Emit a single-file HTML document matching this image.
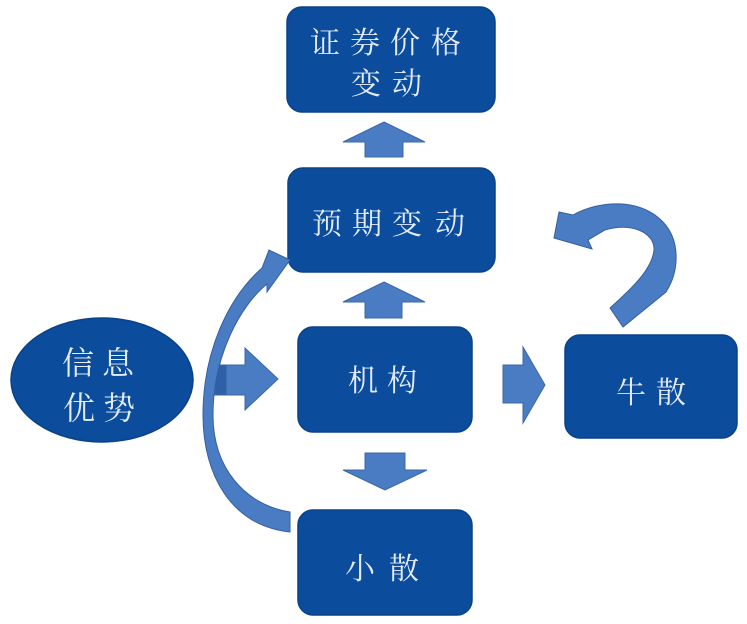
<!DOCTYPE html>
<html>
<head>
<meta charset="utf-8">
<style>
html,body{margin:0;padding:0;background:#ffffff;}
body{width:747px;height:624px;overflow:hidden;}
svg{display:block;}
.t{font-family:"Liberation Serif","Noto Serif CJK SC","Noto Sans CJK SC",serif;fill:#e4ecf7;font-size:30px;}
</style>
</head>
<body>
<svg width="747" height="624" viewBox="0 0 747 624" xmlns="http://www.w3.org/2000/svg">
  <rect width="747" height="624" fill="#ffffff"/>

  <!-- boxes -->
  <rect x="287" y="7" width="208" height="105" rx="15" fill="#0b4c9c" stroke="#0a4288" stroke-width="1.5"/>
  <rect x="288" y="168" width="207" height="104" rx="15" fill="#0b4c9c" stroke="#0a4288" stroke-width="1.5"/>
  <rect x="298" y="327" width="174" height="105" rx="15" fill="#0b4c9c" stroke="#0a4288" stroke-width="1.5"/>
  <rect x="298" y="510" width="174" height="105" rx="15" fill="#0b4c9c" stroke="#0a4288" stroke-width="1.5"/>
  <rect x="565" y="335" width="172" height="103" rx="15" fill="#0b4c9c" stroke="#0a4288" stroke-width="1.5"/>
  <ellipse cx="102" cy="380" rx="91" ry="62" fill="#0b4c9c" stroke="#0a4288" stroke-width="1.5"/>

  <!-- straight block arrows -->
  <g fill="#4a7cc3" stroke="#3a67a6" stroke-width="1">
    <polygon points="384,122 425,142 403,142 403,157 365,157 365,142 343,142"/>
    <polygon points="384,282 425,302 402,302 402,318 365,318 365,302 343,302"/>
    <polygon points="365,453 405,453 405,470 427,470 385,490 343,470 365,470"/>
    <polygon points="215,365 245,365 245,348 278,379 245,410 245,395 215,395"/>
    <polygon points="503,365 523,365 523,347 545,385 523,423 523,403 503,403"/>
  </g>
  <rect x="215.5" y="365.5" width="11" height="29" fill="#2f5fa6"/>

  <!-- left curved arrow -->
  <path d="M 290 532 C 232 526, 203 476, 203 415 C 203 352, 228 298, 262 268 L 269 250 L 290 260 L 267 292 L 267 284 C 240 306, 213 356, 213 415 C 213 468, 245 505, 290 512 Z"
        fill="#4a7cc3" stroke="#355f9e" stroke-width="1"/>

  <!-- right curved arrow -->
  <path d="M 610 308 C 630 290, 652 270, 654 250 C 655 232, 630 222, 605 230 L 588 240 L 592 249 L 554 238 L 559 212 L 573 215 C 600 200, 640 198, 663 222 C 680 240, 680 270, 666 292 L 623 327 Z"
        fill="#4a7cc3" stroke="#355f9e" stroke-width="1"/>

  <!-- labels -->
  <text class="t" x="325 365 405 446" y="53" text-anchor="middle">证券价格</text>
  <text class="t" x="366 407" y="94" text-anchor="middle">变动</text>
  <text class="t" x="327 367 407 450" y="234" text-anchor="middle">预期变动</text>
  <text class="t" x="363 402" y="391" text-anchor="middle">机构</text>
  <text class="t" x="360 404" y="579" text-anchor="middle">小散</text>
  <text class="t" x="631 671" y="403" text-anchor="middle">牛散</text>
  <text class="t" style="font-size:32px" x="78 118" y="374" text-anchor="middle">信息</text>
  <text class="t" style="font-size:32px" x="79 119" y="419" text-anchor="middle">优势</text>
</svg>
</body>
</html>
